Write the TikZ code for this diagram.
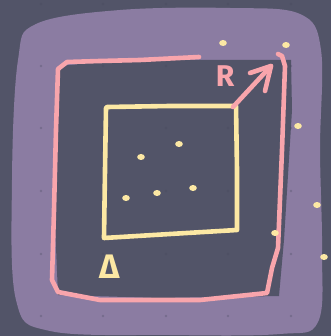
\documentclass[tikz,border=0pt]{standalone}
\usepackage{fontspec}
\newfontfamily\sketchfont{Fira Sans}
\usetikzlibrary{arrows.meta}
\definecolor{SlateBg}{HTML}{525468}
\definecolor{LilacFill}{HTML}{8B7CA2}
\definecolor{PinkInk}{HTML}{F8A5AC}
\definecolor{ButterInk}{HTML}{FCE8A4}
\definecolor{GridDot}{HTML}{44465A}

\begin{document}
\begin{tikzpicture}[x=1pt,y=-1pt,
      ink/.style={line width=4.6pt,line cap=round,line join=round},
      pinkline/.style={ink,draw=PinkInk},
      butterline/.style={ink,draw=ButterInk},
      pinklabel/.style={text=PinkInk,font=\sketchfont\fontsize{30}{30}\selectfont\bfseries,inner sep=0pt},
      butterlabel/.style={text=ButterInk,font=\sketchfont\fontsize{34}{34}\selectfont\bfseries,inner sep=0pt},
      speck/.style={fill=ButterInk},
    ]
    % Canvas
    \fill[SlateBg] (0,0) rectangle (331,336);
    \useasboundingbox (0,0) rectangle (331,336);
    % Lilac halo
    \fill[LilacFill] plot[smooth cycle,tension=0.6] coordinates {
        (36,24) (120,10) (230,8) (300,14) (321,50) (320,150) (322,250)
        (318,322) (280,334) (170,335) (50,331) (16,300) (12,180) (18,60)};
    % Dark core
    \fill[SlateBg] (60,66) -- (120,60) -- (291,60) -- (292,110) -- (284,240)
        -- (279,296) -- (160,298) -- (58,295) -- (54,200) -- cycle;
    % Faint grid
    \foreach \gx in {41,103,166,228,291}
      \foreach \gy in {4,66,128,191,254,316}
        \fill[GridDot,opacity=0.3] (\gx,\gy) circle (1.4);
    % Pink square
    \draw[pinkline] (199,57) -- (140,60) -- (100,61) -- (67,62) -- (58,69)
        -- (56,130) -- (54,210) -- (52,280) -- (58,292) -- (100,300)
        -- (200,300) -- (267,293) -- (272,268) -- (278,248) -- (282,150)
        -- (285,66) -- (282,56) -- (278,54);
    % Yellow square
    \draw[butterline] (107,107) -- (170,106) -- (236,106) -- (237,170)
        -- (237,230) -- (170,234) -- (104,238) -- (105,170) -- (106,108);
    % Radius arrow
    \coordinate (ycorner) at (233,107);
    \coordinate (rtip) at (271,66);
    \draw[pinkline] (ycorner) -- (rtip);
    \draw[pinkline] (rtip) ++(-21,7) -- (rtip) -- ++(-6,25);
    \node[pinklabel] (rlabel) at (225,76) {R};
    \node[butterlabel] (deltalabel) at (110,267) {Δ};
    % Specks
    \foreach \sx/\sy in {179/144,141/157,126/198,157/193,193/188,
                         223/43,286/45,298/126,317/205,275/233,324/257}
      \fill[speck] (\sx,\sy) ellipse (3.8 and 3);
  \end{tikzpicture}
\end{document}
